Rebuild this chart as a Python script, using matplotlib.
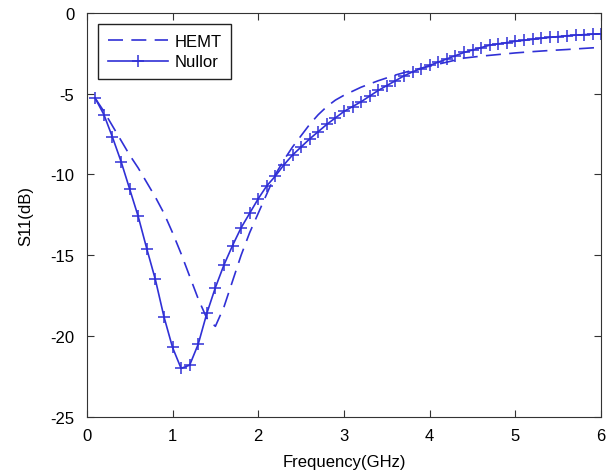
import numpy as np
import matplotlib.pyplot as plt

plt.rcParams['font.family'] = ['Liberation Sans', 'DejaVu Sans']
plt.rcParams['axes.unicode_minus'] = False

# Nullor: pontos a cada 0.1 GHz
f_nullor = [0.1, 0.2, 0.3, 0.4, 0.5, 0.6, 0.7, 0.8, 0.9, 1.0,
            1.1, 1.2, 1.3, 1.4, 1.5, 1.6, 1.7, 1.8, 1.9, 2.0,
            2.1, 2.2, 2.3, 2.4, 2.5, 2.6, 2.7, 2.8, 2.9, 3.0,
            3.1, 3.2, 3.3, 3.4, 3.5, 3.6, 3.7, 3.8, 3.9, 4.0,
            4.1, 4.2, 4.3, 4.4, 4.5, 4.6, 4.7, 4.8, 4.9, 5.0,
            5.1, 5.2, 5.3, 5.4, 5.5, 5.6, 5.7, 5.8, 5.9, 6.0]
s11_nullor = [-5.3, -6.3, -7.7, -9.2, -10.9, -12.6, -14.6, -16.5, -18.8, -20.7,
              -22.0, -21.8, -20.5, -18.6, -17.0, -15.6, -14.4, -13.3, -12.4, -11.5,
              -10.7, -10.1, -9.4, -8.8, -8.3, -7.8, -7.35, -6.9, -6.5, -6.1,
              -5.8, -5.5, -5.15, -4.8, -4.5, -4.2, -3.9, -3.65, -3.45, -3.25,
              -3.05, -2.85, -2.65, -2.45, -2.3, -2.15, -2.0, -1.92, -1.84, -1.76,
              -1.7, -1.64, -1.58, -1.52, -1.47, -1.42, -1.38, -1.35, -1.32, -1.3]

# HEMT
f_hemt = [0.1, 0.2, 0.3, 0.4, 0.5, 0.6, 0.7, 0.8, 0.9, 1.0,
          1.1, 1.2, 1.3, 1.4, 1.5, 1.6, 1.7, 1.8, 1.9, 2.0,
          2.1, 2.2, 2.3, 2.4, 2.5, 2.6, 2.7, 2.8, 2.9, 3.0,
          3.2, 3.4, 3.6, 3.8, 4.0, 4.2, 4.4, 4.6, 4.8, 5.0,
          5.2, 5.4, 5.6, 5.8, 5.95]
s11_hemt = [-5.3, -6.1, -7.0, -7.9, -8.8, -9.6, -10.5, -11.4, -12.4, -13.6,
            -14.9, -16.3, -17.7, -18.9, -19.4, -18.2, -16.6, -15.0, -13.6, -12.4,
            -11.2, -10.0, -9.1, -8.3, -7.6, -6.9, -6.3, -5.8, -5.4, -5.1,
            -4.6, -4.2, -3.85, -3.55, -3.3, -3.05, -2.8, -2.68, -2.58, -2.48,
            -2.4, -2.33, -2.27, -2.2, -2.15]

cor = '#3030d6'

fig = plt.figure(figsize=(6.11, 4.77), dpi=100)
ax = fig.add_axes([0.142, 0.124, 0.842, 0.847])
ax.plot(f_hemt, s11_hemt, '--', color=cor, lw=1.2, dashes=(9, 5), label='HEMT')
ax.plot(f_nullor, s11_nullor, '-', color=cor, lw=1.2, marker='+', ms=8, mew=1.1, label='Nullor')

ax.set_xlim(0, 6)
ax.set_ylim(-25, 0)
ax.set_xticks(range(0, 7))
ax.set_yticks([-25, -20, -15, -10, -5, 0])
ax.tick_params(direction='in', length=5, top=True, right=True, labelsize=12, color='#333333')
ax.tick_params(axis='x', pad=8)
ax.tick_params(axis='y', pad=9)
for s in ax.spines.values():
    s.set_color('#333333')
ax.set_xlabel('Frequency(GHz)', fontsize=12, labelpad=8)
ax.set_ylabel('S11(dB)', fontsize=12, labelpad=12)

leg = ax.legend(loc='upper left', fontsize=12, fancybox=False, framealpha=1,
                edgecolor='#222222', handlelength=3.6, borderaxespad=0.7,
                labelspacing=0.35, borderpad=0.55, handletextpad=0.4)
leg.get_frame().set_linewidth(1.0)

plt.savefig('out.png')
